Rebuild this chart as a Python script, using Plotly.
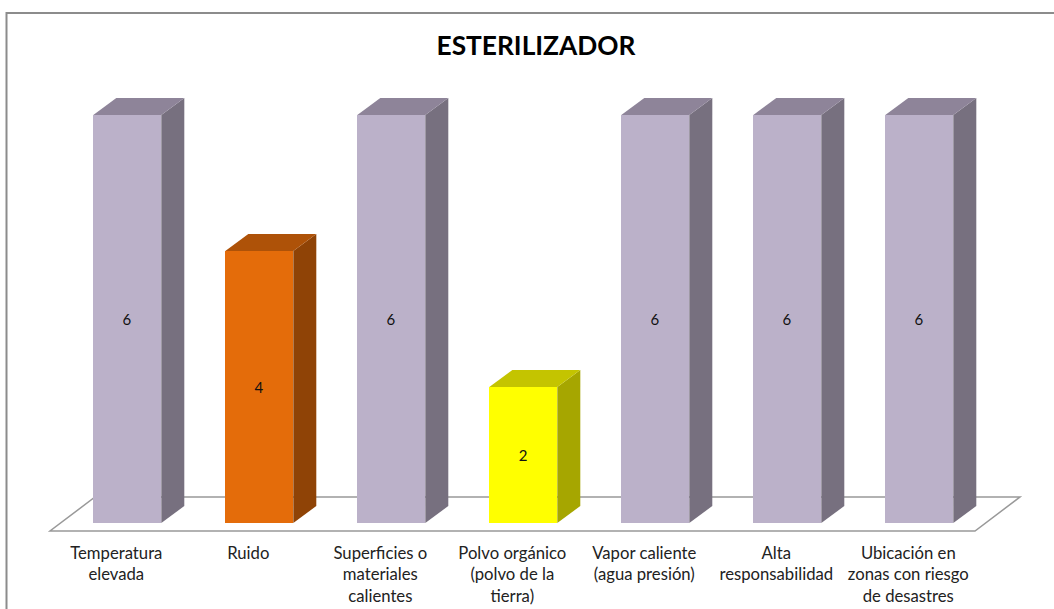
import plotly.graph_objects as go

title = "ESTERILIZADOR"
categories = [
    "Temperatura<br>elevada",
    "Ruido",
    "Superficies o<br>materiales<br>calientes",
    "Polvo orgánico<br>(polvo de la<br>tierra)",
    "Vapor caliente<br>(agua presión)",
    "Alta<br>responsabilidad",
    "Ubicación en<br>zonas con riesgo<br>de desastres",
]
values = [6, 4, 6, 2, 6, 6, 6]
front_colors = ["#BBB1C9", "#E46C0A", "#BBB1C9", "#FFFF00", "#BBB1C9", "#BBB1C9", "#BBB1C9"]
top_colors = ["#8E8499", "#AE5208", "#8E8499", "#C4C400", "#8E8499", "#8E8499", "#8E8499"]
side_colors = ["#77707F", "#8F4306", "#77707F", "#A6A600", "#77707F", "#77707F", "#77707F"]

W, H = 1054, 609
L, R, T, B = 40, 14, 30, 68          # plot-area margins in px
PX_PER_CAT, PX_PER_UNIT = 132.0, 68.0
X0_PX, Y0_PX = 127.3, 523.0          # pixel position of first category / value 0

bar_w = 68 / PX_PER_CAT
dx = 23 / PX_PER_CAT
dy = 17 / PX_PER_UNIT

xr = [(L - X0_PX) / PX_PER_CAT, (W - R - X0_PX) / PX_PER_CAT]
yr = [(Y0_PX - (H - B)) / PX_PER_UNIT, (Y0_PX - T) / PX_PER_UNIT]

idx = list(range(len(values)))
fig = go.Figure()

fig.add_trace(go.Bar(
    x=idx, y=values, width=bar_w,
    marker=dict(color=front_colors, line=dict(width=0)),
    text=[str(v) for v in values], textposition="inside", insidetextanchor="middle",
    textangle=0, constraintext="none",
    textfont=dict(family="Lato", size=15, color="#111111"),
    showlegend=False, hoverinfo="skip",
))

for i, v in zip(idx, values):
    xl, xr_f = i - bar_w / 2, i + bar_w / 2
    # side face
    fig.add_trace(go.Scatter(
        x=[xr_f, xr_f + dx, xr_f + dx, xr_f, xr_f],
        y=[0, dy, v + dy, v, 0],
        mode="lines", fill="toself", fillcolor=side_colors[i],
        line=dict(width=0), showlegend=False, hoverinfo="skip",
    ))
    # top face
    fig.add_trace(go.Scatter(
        x=[xl, xl + dx, xr_f + dx, xr_f, xl],
        y=[v, v + dy, v + dy, v, v],
        mode="lines", fill="toself", fillcolor=top_colors[i],
        line=dict(width=0), showlegend=False, hoverinfo="skip",
    ))

# floor of the 3D chart, sits under the bars
fx0 = (50 - X0_PX) / PX_PER_CAT
fx1 = (975 - X0_PX) / PX_PER_CAT
fdx = 45 / PX_PER_CAT
fy0 = (Y0_PX - 531) / PX_PER_UNIT
fy1 = (Y0_PX - 497) / PX_PER_UNIT
floor_path = (f"M {fx0},{fy0} L {fx1},{fy0} L {fx1 + fdx},{fy1} L {fx0 + fdx},{fy1} Z")

plot_w, plot_h = W - L - R, H - T - B
fig.update_layout(
    width=W, height=H,
    margin=dict(l=L, r=R, t=T, b=B, autoexpand=False),
    paper_bgcolor="white", plot_bgcolor="white",
    bargap=0, showlegend=False, hovermode=False,
    title=dict(text=f"<b>{title}</b>", x=536 / W, y=1 - 46 / H, xref="container", yref="container",
               xanchor="center", yanchor="middle",
               font=dict(family="Lato", size=26.3, color="#000000")),
    xaxis=dict(range=xr, tickmode="array", tickvals=idx, ticktext=categories,
               showgrid=False, zeroline=False, showline=False, ticks="",
               ticklabelshift=-11,
               tickangle=0, tickfont=dict(family="Lato", size=16.7, color="#222222")),
    yaxis=dict(range=yr, visible=False, showgrid=False, zeroline=False),
    shapes=[
        dict(type="path", path=floor_path, xref="x", yref="y", layer="below",
             fillcolor="white", line=dict(color="#999999", width=1.5)),
        dict(type="rect", xref="paper", yref="paper", layer="above",
             x0=(6.5 - L) / plot_w, x1=(W + 20 - L) / plot_w,
             y0=-(H + 20 - T - plot_h) / plot_h, y1=1 + (T - 13) / plot_h,
             line=dict(color="#8C8C8C", width=2), fillcolor="rgba(0,0,0,0)"),
    ],
)

fig.write_html("out.html", config={"displayModeBar": False},
               post_script="document.body.style.margin='0';document.documentElement.style.overflow='hidden';")
